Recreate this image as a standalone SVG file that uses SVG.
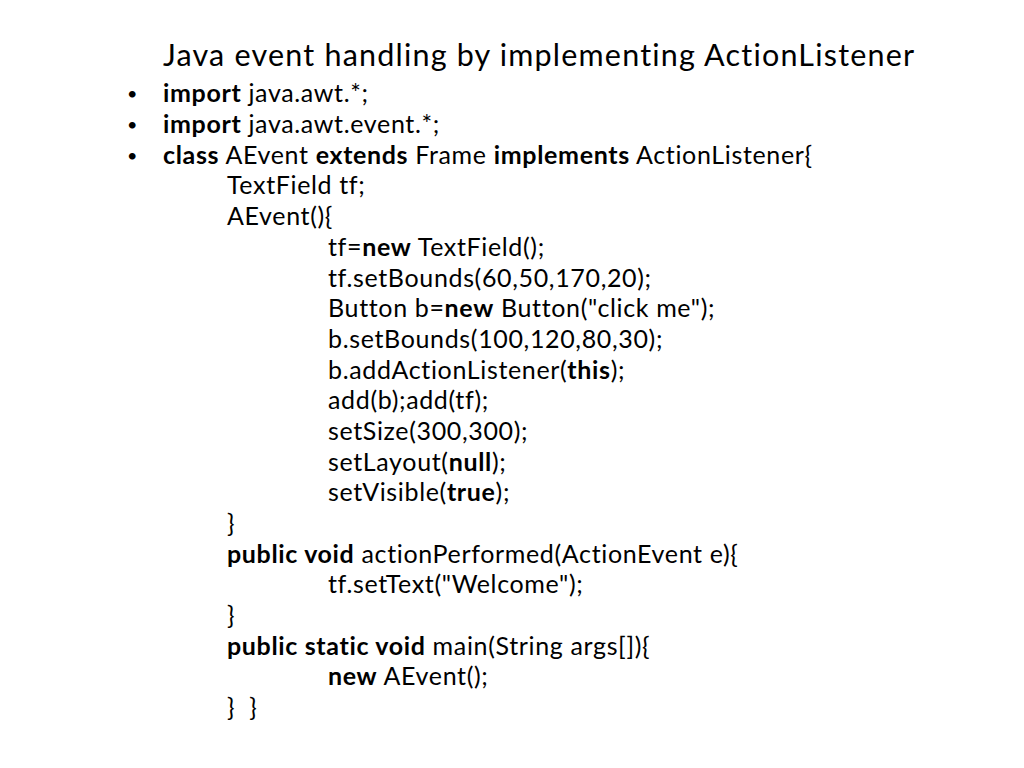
<svg xmlns="http://www.w3.org/2000/svg" width="1024" height="768" viewBox="0 0 1024 768">
<style>
text{font-family:Lato,"Open Sans","Liberation Sans",sans-serif;font-size:25px;letter-spacing:0.65px;fill:#000}
.t{font-size:30.5px;letter-spacing:1.2px}
.b{font-weight:bold}
.u{font-size:18px}
</style>
<rect width="1024" height="768" fill="#fff"/>
<text class="t" x="163" y="66">Java event handling by implementing ActionListener</text>
<text class="u" x="127" y="100">•</text><text x="163" y="102"><tspan class="b">import</tspan> java.awt.*;</text>
<text class="u" x="127" y="131">•</text><text x="163" y="133"><tspan class="b">import</tspan> java.awt.event.*;</text>
<text class="u" x="127" y="162">•</text><text x="163" y="164"><tspan class="b">class</tspan> AEvent <tspan class="b">extends</tspan> Frame <tspan class="b">implements</tspan> ActionListener{</text>
<text x="227" y="194">TextField tf;</text>
<text x="227" y="225">AEvent(){</text>
<text x="328" y="256">tf=<tspan class="b">new</tspan> TextField();</text>
<text x="328" y="287">tf.setBounds(60,50,170,20);</text>
<text x="328" y="317">Button b=<tspan class="b">new</tspan> Button("click me");</text>
<text x="328" y="348">b.setBounds(100,120,80,30);</text>
<text x="328" y="379">b.addActionListener(<tspan class="b">this</tspan>);</text>
<text x="328" y="409">add(b);add(tf);</text>
<text x="328" y="440">setSize(300,300);</text>
<text x="328" y="471">setLayout(<tspan class="b">null</tspan>);</text>
<text x="328" y="501">setVisible(<tspan class="b">true</tspan>);</text>
<text x="227" y="532">}</text>
<text x="227" y="563"><tspan class="b">public void</tspan> actionPerformed(ActionEvent e){</text>
<text x="328" y="593">tf.setText("Welcome");</text>
<text x="227" y="624">}</text>
<text x="227" y="655"><tspan class="b">public static void</tspan> main(String args[]){</text>
<text x="328" y="685"><tspan class="b">new</tspan> AEvent();</text>
<text x="227" y="716" xml:space="preserve">}  }</text>
</svg>
